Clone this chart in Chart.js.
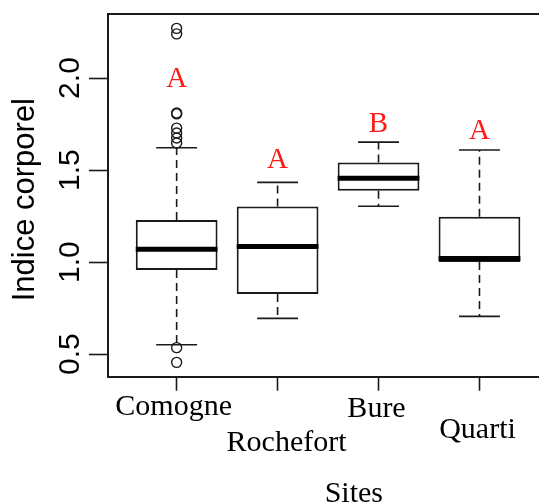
<!DOCTYPE html>
<html>
<head>
<meta charset="utf-8">
<script src="https://cdn.jsdelivr.net/npm/chart.js@4/dist/chart.umd.min.js"></script>
<style>
  html, body { margin: 0; padding: 0; background: #fff; overflow: hidden; width: 539px; height: 504px; }
  canvas { display: block; }
</style>
</head>
<body>
<canvas id="chart" width="606" height="520" style="width:606px;height:520px"></canvas>
<script>
// Body index per site: five-number summaries, outliers and group letters
const sites = ['Comogne', 'Rochefort', 'Bure', 'Quarti'];
const lowerWhisker = [0.551, 0.694, 1.303, 0.705];
const q1 = [0.957, 0.826, 1.387, 1.000];
const median = [1.070, 1.085, 1.455, 1.020];
const q3 = [1.228, 1.302, 1.541, 1.246];
const upperWhisker = [1.621, 1.433, 1.652, 1.609];
const outliers = [
  [2.270, 2.240, 1.810, 1.805, 1.728, 1.701, 1.674, 1.647, 0.535, 0.455],
  [],
  [],
  []
];
const groupLetters = ['A', 'A', 'B', 'A'];
const letterLevel = [1.995, 1.550, 1.747, 1.712];
const yTicks = [0.5, 1.0, 1.5, 2.0];

// Per-label offsets (px) of the staggered site names under the axis
const labelShift = [[-3, 0], [9, 36.4], [-2, 2], [-2, 23.8]];

const ink = '#1a1a1a';

// Top and right sides of the plot frame
const frame = {
  id: 'frame',
  afterDraw(chart) {
    const { ctx, chartArea: a } = chart;
    ctx.save();
    ctx.strokeStyle = ink;
    ctx.lineWidth = 2;
    ctx.beginPath();
    ctx.moveTo(a.left, a.top);
    ctx.lineTo(a.right, a.top);
    ctx.lineTo(a.right, a.bottom);
    ctx.stroke();
    ctx.restore();
  }
};

// Whiskers, staples, medians and the group letters above each box
const boxParts = {
  id: 'boxParts',
  afterDatasetsDraw(chart) {
    const { ctx, scales: { y } } = chart;
    const bars = chart.getDatasetMeta(0).data;
    const seg = (x1, y1, x2, y2) => { ctx.beginPath(); ctx.moveTo(x1, y1); ctx.lineTo(x2, y2); ctx.stroke(); };
    ctx.save();
    ctx.strokeStyle = ink;
    ctx.lineCap = 'butt';
    bars.forEach((bar, i) => {
      const x = bar.x, w = bar.width;
      const yHi = y.getPixelForValue(upperWhisker[i]);
      const yLo = y.getPixelForValue(lowerWhisker[i]);
      ctx.lineWidth = 1.6;
      ctx.setLineDash([8, 5]);
      seg(x, y.getPixelForValue(q3[i]), x, yHi);
      seg(x, y.getPixelForValue(q1[i]), x, yLo);
      ctx.setLineDash([]);
      seg(x - w / 4, yHi, x + w / 4, yHi);
      seg(x - w / 4, yLo, x + w / 4, yLo);
      ctx.strokeStyle = '#000';
      ctx.lineWidth = 5;
      const yMed = y.getPixelForValue(median[i]);
      seg(x - w / 2, yMed, x + w / 2, yMed);
      ctx.strokeStyle = ink;
    });
    ctx.fillStyle = '#ff1a1a';
    ctx.font = '29px "Liberation Serif", "Times New Roman", serif';
    ctx.textAlign = 'center';
    ctx.textBaseline = 'middle';
    bars.forEach((bar, i) => {
      ctx.fillText(groupLetters[i], bar.x, y.getPixelForValue(letterLevel[i]));
    });
    ctx.restore();
  }
};

// Staggers the site names on the x axis
const staggerLabels = {
  id: 'staggerLabels',
  beforeDraw(chart) {
    const scale = chart.scales.x;
    if (typeof scale.getLabelItems !== 'function') return;
    const items = scale.getLabelItems();
    if (items.staggered) return;
    items.forEach((item, i) => {
      const s = labelShift[i];
      if (!s) return;
      item.options.translation[0] += s[0];
      item.options.translation[1] += s[1];
    });
    items.staggered = true;
  }
};

const noPad = (scale) => {
  scale.paddingLeft = 0; scale.paddingRight = 0;
  scale.paddingTop = 0; scale.paddingBottom = 0;
};

new Chart(document.getElementById('chart'), {
  type: 'bar',
  data: {
    datasets: [
      {
        type: 'bar',
        data: sites.map((s, i) => ({ x: i + 1, y: [q1[i], q3[i]] })),
        backgroundColor: '#ffffff',
        borderColor: ink,
        borderWidth: 2,
        borderSkipped: false,
        barPercentage: 0.81,
        categoryPercentage: 1,
        order: 2
      },
      {
        type: 'scatter',
        data: outliers.flatMap((vals, i) => vals.map(v => ({ x: i + 1, y: v }))),
        pointStyle: 'circle',
        radius: 5,
        borderWidth: 1.4,
        borderColor: ink,
        backgroundColor: 'rgba(0,0,0,0)',
        order: 1
      }
    ]
  },
  options: {
    responsive: false,
    animation: false,
    events: [],
    layout: { padding: { top: 14, left: 0, right: 0, bottom: 0 } },
    plugins: { legend: { display: false }, tooltip: { enabled: false } },
    scales: {
      x: {
        type: 'linear',
        min: 0.32,
        max: 5.19,
        offset: false,
        afterBuildTicks: (scale) => {
          scale.ticks = sites.map((s, i) => ({ value: i + 1 }));
        },
        afterFit: (scale) => { scale.height = 143.3; noPad(scale); },
        grid: {
          display: true, offset: false, drawOnChartArea: false, drawTicks: true,
          tickLength: 14, tickColor: ink, tickWidth: 1.6, color: ink
        },
        border: { display: true, color: ink, width: 2 },
        ticks: {
          autoSkip: false, minRotation: 0, maxRotation: 0, padding: 1,
          color: '#000',
          font: { family: '"Liberation Serif", "Times New Roman", serif', size: 30, lineHeight: 1 },
          callback: (v) => sites[Math.round(v) - 1]
        },
        title: {
          display: true, text: 'Sites', color: '#000',
          font: { family: '"Liberation Serif", "Times New Roman", serif', size: 30, lineHeight: 1 },
          padding: { top: 0, bottom: 11 }
        }
      },
      y: {
        type: 'linear',
        min: 0.377,
        max: 2.348,
        beginAtZero: false,
        afterBuildTicks: (scale) => {
          scale.ticks = yTicks.map(v => ({ value: v }));
        },
        afterFit: (scale) => { scale.width = 108; noPad(scale); },
        grid: {
          display: true, drawOnChartArea: false, drawTicks: true,
          tickLength: 19, tickColor: ink, tickWidth: 1.6, color: ink
        },
        border: { display: true, color: ink, width: 2 },
        ticks: {
          minRotation: 90, maxRotation: 90, crossAlign: 'center', padding: -3,
          color: '#000',
          font: { family: '"Liberation Sans", Arial, sans-serif', size: 30, lineHeight: 1 },
          callback: (v) => Number(v).toFixed(1)
        },
        title: {
          display: true, text: 'Indice corporel ', color: '#000',
          font: { family: '"Liberation Sans", Arial, sans-serif', size: 31, lineHeight: 1 },
          padding: { top: 10, bottom: 0 }
        }
      }
    }
  },
  plugins: [frame, boxParts, staggerLabels]
});
</script>
</body>
</html>
